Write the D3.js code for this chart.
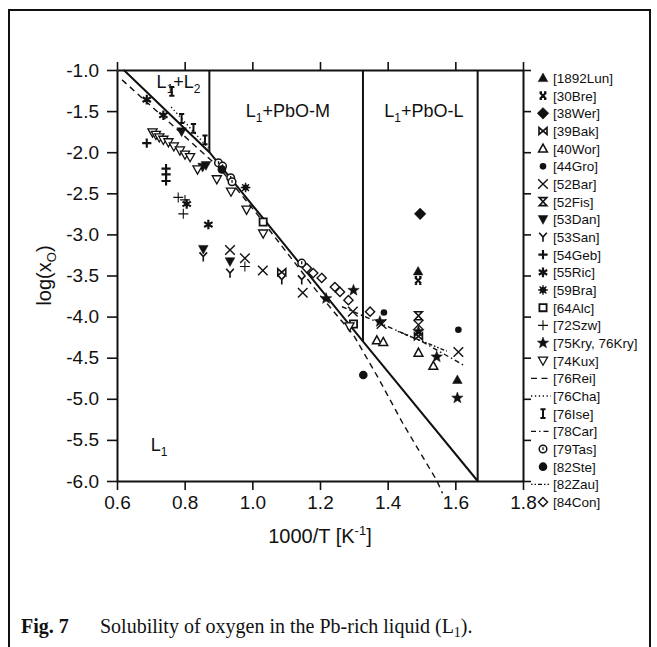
<!DOCTYPE html>
<html>
<head>
<meta charset="utf-8">
<script src="https://cdn.jsdelivr.net/npm/d3@7"></script>
<style>
  body { margin: 0; background: #fff; }
  svg { display: block; }
</style>
</head>
<body>
<svg id="fig" width="657" height="647"></svg>
<script>
// Oxygen solubility in liquid Pb: points are [1000/T (1/K), log(x_O)]
const lun1892 = [[1.49, -3.45], [1.606, -4.77]];
const bre30   = [[1.49, -3.56]];
const wer38   = [[1.496, -2.75]];
const bak39   = [[1.087, -3.46], [1.491, -4.24]];
const wor40   = [[1.368, -4.29], [1.387, -4.31], [1.491, -4.44], [1.535, -4.60]];
const gro44   = [[1.389, -3.95], [1.609, -4.16]];
const bar52   = [[0.934, -3.19], [0.978, -3.29], [1.031, -3.44], [1.149, -3.71],
                 [1.297, -3.94], [1.382, -4.09], [1.491, -4.10], [1.609, -4.43]];
const fis52   = [[1.491, -3.99]];
const dan53   = [[0.791, -1.75], [0.853, -2.18], [0.863, -2.16], [0.855, -3.18], [0.934, -3.33]];
const san53   = [[0.855, -3.27], [0.934, -3.47], [1.087, -3.55], [1.146, -3.55]];
const geb54   = [[0.688, -1.89], [0.745, -2.20], [0.745, -2.27], [0.745, -2.35]];
const ric55   = [[0.688, -1.36], [0.737, -1.55], [0.806, -2.63], [0.87, -2.88]];
const bra59   = [[0.98, -2.43]];
const alc64   = [[1.032, -2.85], [1.299, -4.09]];
const szw72   = [[0.781, -2.55], [0.801, -2.58], [0.796, -2.75], [0.978, -3.39]];
const kry75   = [[1.218, -3.78], [1.299, -3.68], [1.377, -4.06], [1.491, -4.18], [1.545, -4.49], [1.606, -4.99]];
const kux74   = [[0.705, -1.76], [0.715, -1.79], [0.725, -1.82], [0.737, -1.85], [0.752, -1.88],
                 [0.768, -1.93], [0.786, -1.98], [0.801, -2.03], [0.816, -2.06], [0.838, -2.21],
                 [0.895, -2.33], [0.937, -2.48], [0.983, -2.70], [1.032, -2.99], [1.287, -4.12]];
const ise76   = [[0.762, -1.26], [0.791, -1.59], [0.826, -1.71], [0.86, -1.85]];
const tas79   = [[0.90, -2.13], [0.912, -2.17], [0.936, -2.31], [0.94, -2.36], [1.146, -3.35]];
const ste82   = [[0.91, -2.21], [1.328, -4.71]];
const con84   = [[1.161, -3.41], [1.18, -3.47], [1.205, -3.53], [1.244, -3.64],
                 [1.259, -3.70], [1.284, -3.80], [1.348, -3.94]];

// assessed and literature curves
const calcLine = [[0.62, -1.0], [0.873, -2.0], [1.327, -4.3], [1.666, -6.0]];
const rei76 = [[0.615, -1.12], [0.75, -1.62], [0.9, -2.18], [1.0, -2.68], [1.2, -3.74],
               [1.3, -4.23], [1.37, -4.73], [1.445, -5.3], [1.546, -6.0], [1.562, -6.15]];
const cha76 = [[0.76, -1.45], [0.87, -1.95]];
const car78 = [[1.265, -3.88], [1.377, -4.08], [1.5, -4.3], [1.624, -4.59]];
const zau82 = [[1.43, -4.18], [1.575, -4.42]];

// phase boundaries: [1000/T, log(x_O) top, log(x_O) bottom]
const boundaries = [[0.873, -1.0, -2.0], [1.327, -1.0, -4.3], [1.666, -1.0, -6.0]];

const xTicks = [0.6, 0.8, 1.0, 1.2, 1.4, 1.6, 1.8];
const yTicks = [-1.0, -1.5, -2.0, -2.5, -3.0, -3.5, -4.0, -4.5, -5.0, -5.5, -6.0];

const legendLabels = ["[1892Lun]", "[30Bre]", "[38Wer]", "[39Bak]", "[40Wor]", "[44Gro]",
  "[52Bar]", "[52Fis]", "[53Dan]", "[53San]", "[54Geb]", "[55Ric]", "[59Bra]", "[64Alc]",
  "[72Szw]", "[75Kry, 76Kry]", "[74Kux]", "[76Rei]", "[76Cha]", "[76Ise]", "[78Car]",
  "[79Tas]", "[82Ste]", "[82Zau]", "[84Con]"];
const legendKinds = ["triFill", "boldX", "diaFill", "bowtie", "triOpen", "dotSmall",
  "cross", "hourglass", "triDownFill", "ySym", "plusBold", "asterisk", "burst", "square",
  "plusThin", "star", "triDownOpen", "dash", "dot", "ibar", "dashdot",
  "ring", "dotBig", "dotdash", "diaOpen"];
const legendData = [lun1892, bre30, wer38, bak39, wor40, gro44, bar52, fis52, dan53, san53,
  geb54, ric55, bra59, alc64, szw72, kry75, kux74, rei76, cha76, ise76, car78,
  tas79, ste82, zau82, con84];

const SANS = "'Liberation Sans', Arial, Helvetica, sans-serif";
const SERIF = "'Liberation Serif', 'Times New Roman', serif";

const svg = d3.select("#fig");
svg.append("rect").attr("width", 657).attr("height", 647).attr("fill", "#fff");

const x = d3.scaleLinear().domain([0.6, 1.8]).range([117, 523]);
const y = d3.scaleLinear().domain([-6, -1]).range([481, 70]);

// page frame
svg.append("path").attr("d", "M9,647V10H650V647")
  .attr("fill", "none").attr("stroke", "#111").attr("stroke-width", 2);

// axes
const fmt = d => d.toFixed(1);
function styleAxis(g, size) {
  g.attr("font-family", SANS).attr("font-size", size);
  g.select(".domain").attr("stroke", "#111").attr("stroke-width", 2);
  g.selectAll(".tick line").attr("stroke", "#111").attr("stroke-width", 1.6);
  g.selectAll(".tick text").attr("fill", "#111");
}
styleAxis(svg.append("g").attr("transform", `translate(0,${y(-6)})`)
  .call(d3.axisBottom(x).tickValues(xTicks).tickFormat(fmt).tickSize(9).tickSizeOuter(0).tickPadding(6)), 19);
styleAxis(svg.append("g").attr("transform", `translate(${x(0.6)},0)`)
  .call(d3.axisLeft(y).tickValues(yTicks).tickFormat(fmt).tickSize(10).tickSizeOuter(0).tickPadding(8)), 19);
styleAxis(svg.append("g").attr("transform", `translate(0,${y(-1)})`)
  .call(d3.axisTop(x).tickValues(xTicks).tickFormat("").tickSize(8).tickSizeOuter(0)), 19);
styleAxis(svg.append("g").attr("transform", `translate(${x(1.8)},0)`)
  .call(d3.axisRight(y).tickValues(yTicks).tickFormat("").tickSize(8).tickSizeOuter(0)), 19);

// axis titles
const xt = svg.append("text").attr("x", (x(0.6) + x(1.8)) / 2).attr("y", 543)
  .attr("text-anchor", "middle").attr("font-family", SANS).attr("font-size", 20).attr("fill", "#111");
xt.append("tspan").text("1000/T [K");
xt.append("tspan").attr("font-size", 13).attr("dy", -8).text("-1");
xt.append("tspan").attr("dy", 8).text("]");

const yt = svg.append("text")
  .attr("transform", `translate(51,${(y(-1) + y(-6)) / 2}) rotate(-90)`)
  .attr("text-anchor", "middle").attr("font-family", SANS).attr("font-size", 20).attr("fill", "#111");
yt.append("tspan").text("log(x");
yt.append("tspan").attr("font-size", 13).attr("dy", 5).text("O");
yt.append("tspan").attr("dy", -5).text(")");

// phase boundaries
svg.append("g").selectAll("line").data(boundaries).join("line")
  .attr("x1", d => x(d[0])).attr("x2", d => x(d[0]))
  .attr("y1", d => y(d[1])).attr("y2", d => y(d[2]))
  .attr("stroke", "#111").attr("stroke-width", 2);

// curves
const lineGen = d3.line().x(d => x(d[0])).y(d => y(d[1]));
const dashes = { dash: "6,4.5", dot: "1.3,2.6", dashdot: "5,3,1.5,3", dotdash: "1.5,2,1.5,2,4,2" };
svg.append("path").attr("d", lineGen(calcLine)).attr("fill", "none")
  .attr("stroke", "#111").attr("stroke-width", 2);
[[rei76, "dash"], [cha76, "dot"], [car78, "dashdot"], [zau82, "dotdash"]].forEach(([pts, k]) => {
  svg.append("path").attr("d", lineGen(pts)).attr("fill", "none")
    .attr("stroke", "#111").attr("stroke-width", 1.4).attr("stroke-dasharray", dashes[k]);
});

// marker glyphs
function starPath(R, r) {
  let p = "";
  for (let i = 0; i < 10; i++) {
    const a = -Math.PI / 2 + i * Math.PI / 5, rr = i % 2 ? r : R;
    p += (i ? "L" : "M") + (rr * Math.cos(a)).toFixed(2) + "," + (rr * Math.sin(a)).toFixed(2);
  }
  return p + "Z";
}
function glyph(g, kind) {
  const P = (d, fill, sw) => g.append("path").attr("d", d)
    .attr("fill", fill || "none").attr("stroke", "#111").attr("stroke-width", sw || 0)
    .attr("stroke-linejoin", "miter");
  switch (kind) {
    case "triFill": P("M0,-5L4.8,3.6L-4.8,3.6Z", "#111", 0.5); break;
    case "boldX": P("M-3,-3L3,3M3,-3L-3,3M-3.4,-3.4H-1M1,-3.4H3.4M-3.4,3.4H-1M1,3.4H3.4", null, 2.1); break;
    case "diaFill": P("M0,-5.8L5.8,0L0,5.8L-5.8,0Z", "#111", 0.5); break;
    case "bowtie": P("M-4,-3.4V3.4L4,-3.4V3.4Z", null, 1.6); break;
    case "triOpen": P("M0,-4.6L4.4,3.4L-4.4,3.4Z", "#fff", 1.5); break;
    case "dotSmall": g.append("circle").attr("r", 3.3).attr("fill", "#111"); break;
    case "cross": P("M-4.8,-4.8L4.8,4.8M4.8,-4.8L-4.8,4.8", null, 1.4); break;
    case "hourglass": P("M-3.8,-4H3.8L-3.8,4H3.8Z", null, 1.6); break;
    case "triDownFill": P("M-4.8,-3.8H4.8L0,5Z", "#111", 0.5); break;
    case "ySym": P("M-3.8,-4.2L0,0L3.8,-4.2M0,0V4.8", null, 1.6); break;
    case "plusBold": P("M-4.6,0H4.6M0,-4.6V4.6", null, 2.1); break;
    case "asterisk": P("M0,-4.8V4.8M-4.2,-2.4L4.2,2.4M4.2,-2.4L-4.2,2.4", null, 2.2); break;
    case "burst":
      g.append("circle").attr("r", 3).attr("fill", "#111");
      P("M0,-4.8V4.8M-4.8,0H4.8M-3.4,-3.4L3.4,3.4M3.4,-3.4L-3.4,3.4", null, 1.4); break;
    case "square": P("M-3.6,-3.6H3.6V3.6H-3.6Z", "#fff", 1.8); break;
    case "plusThin": P("M-5,0H5M0,-5V5", null, 1.1); break;
    case "star": P(starPath(6, 2.5), "#111", 0.5); break;
    case "triDownOpen": P("M-4.6,-3.6H4.6L0,4.6Z", "#fff", 1.3); break;
    case "ibar": P("M-2.6,-4.4H2.6M0,-4.4V4.4M-2.6,4.4H2.6", null, 2); break;
    case "ring":
      g.append("circle").attr("r", 3.8).attr("fill", "#fff").attr("stroke", "#111").attr("stroke-width", 1.5);
      P("M0,-1.8V1", null, 1.3); break;
    case "dotBig": g.append("circle").attr("r", 4.3).attr("fill", "#111"); break;
    case "diaOpen": P("M0,-4.6L4.6,0L0,4.6L-4.6,0Z", "#fff", 1.4); break;
  }
}

// data points
const marks = svg.append("g");
legendData.forEach((pts, i) => {
  const kind = legendKinds[i];
  if (dashes[kind]) return;
  marks.append("g").selectAll("g").data(pts).join("g")
    .attr("transform", d => `translate(${x(d[0])},${y(d[1])})`)
    .each(function () { glyph(d3.select(this), kind); });
});

// region labels with subscripts
function phaseLabel(px, py, parts, anchor) {
  const t = svg.append("text").attr("x", px).attr("y", py).attr("text-anchor", anchor || "middle")
    .attr("font-family", SANS).attr("font-size", 18).attr("fill", "#111");
  let shift = 0;
  parts.forEach(([s, sub]) => {
    const want = sub ? 5 : 0;
    t.append("tspan").attr("dy", want - shift).attr("font-size", sub ? 12 : 18).text(s);
    shift = want;
  });
}
phaseLabel(x(0.782), y(-1.22), [["L"], ["1", 1], ["+L"], ["2", 1]]);
phaseLabel(x(1.105), y(-1.57), [["L"], ["1", 1], ["+PbO-M"]]);
phaseLabel(x(1.507), y(-1.57), [["L"], ["1", 1], ["+PbO-L"]]);
phaseLabel(x(0.70), y(-5.64), [["L"], ["1", 1]], "start");

// key
const key = svg.append("g").attr("font-family", SANS).attr("font-size", 13.5).attr("fill", "#111");
const keyY = d3.scalePoint().domain(legendLabels).range([78, 502]);
legendLabels.forEach((lab, i) => {
  const kind = legendKinds[i];
  const yy = keyY(lab);
  if (dashes[kind]) {
    key.append("line").attr("x1", 531).attr("x2", 551).attr("y1", yy).attr("y2", yy)
      .attr("stroke", "#111").attr("stroke-width", 1.3).attr("stroke-dasharray", dashes[kind]);
  } else {
    glyph(key.append("g").attr("transform", `translate(543,${yy})`), kind);
  }
  key.append("text").attr("x", 553).attr("y", yy).attr("dy", "0.36em").text(lab);
});

// caption
const cap = svg.append("text").attr("y", 633).attr("font-family", SERIF).attr("font-size", 20).attr("fill", "#111");
cap.append("tspan").attr("x", 21).attr("font-weight", "bold").text("Fig. 7");
cap.append("tspan").attr("x", 100).text("Solubility of oxygen in the Pb-rich liquid (L");
cap.append("tspan").attr("font-size", 14).attr("dy", 4).text("1");
cap.append("tspan").attr("dy", -4).text(").");
</script>
</body>
</html>
